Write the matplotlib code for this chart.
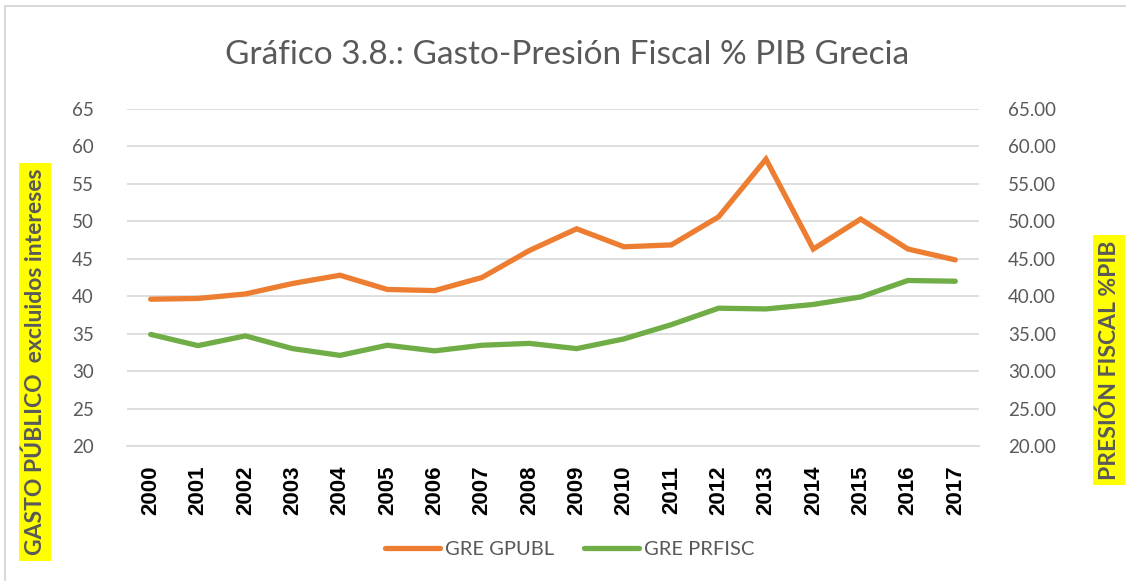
import matplotlib.pyplot as plt
from matplotlib.patches import Rectangle

years = [str(y) for y in range(2000, 2018)]
gre_gpubl = [39.6, 39.7, 40.3, 41.7, 42.8, 40.9, 40.75, 42.5, 46.1, 49.0,
             46.6, 46.85, 50.6, 58.3, 46.3, 50.3, 46.3, 44.85]
gre_prfisc = [34.9, 33.4, 34.7, 33.0, 32.1, 33.45, 32.7, 33.45, 33.7, 33.0,
              34.3, 36.2, 38.4, 38.3, 38.9, 39.9, 42.1, 42.0]
yticks = list(range(20, 70, 5))

gray = '#595959'
plt.rcParams['font.family'] = ['Lato', 'DejaVu Sans']

fig = plt.figure(figsize=(11.26, 5.81), dpi=100)
ax = fig.add_axes([0.1128, 0.2324, 0.7566, 0.58])
ax2 = ax.twinx()

x = range(len(years))
l1, = ax.plot(x, gre_gpubl, color='#ED7D31', lw=3.8, solid_capstyle='round',
              solid_joinstyle='miter', label='GRE GPUBL')
l2, = ax2.plot(x, gre_prfisc, color='#70AD47', lw=3.8, solid_capstyle='round',
               solid_joinstyle='miter', label='GRE PRFISC')

for a in (ax, ax2):
    a.set_ylim(20, 65)
    a.set_yticks(yticks)
    a.set_xlim(-0.5, len(years) - 0.5)
    for s in a.spines.values():
        s.set_visible(False)
    a.tick_params(length=0, labelsize=13.5, labelcolor=gray)

ax.grid(axis='y', color='#D9D9D9', lw=1.2)
ax.set_axisbelow(True)
ax.spines['bottom'].set_visible(True)
ax.spines['bottom'].set_color('#D9D9D9')
ax.spines['bottom'].set_linewidth(1.2)

ax.set_yticklabels([str(v) for v in yticks])
ax2.set_yticklabels(['%.2f' % v for v in yticks])
ax.tick_params(axis='y', pad=24)
ax2.tick_params(axis='y', pad=21)

ax.set_xticks(list(x))
ax.set_xticklabels(years, rotation=90, fontsize=16, fontweight='bold',
                   color='black', family='Liberation Sans')
ax.tick_params(axis='x', pad=14, labelcolor='black')

fig.text(0.504, 0.905, 'Gráfico 3.8.: Gasto-Presión Fiscal % PIB Grecia',
         ha='center', va='center', fontsize=24, color=gray)

fig.text(0.031, 0.377, 'GASTO PÚBLICO  excluidos intereses', rotation=90,
         ha='center', va='center', fontsize=16.5, fontweight='bold', color=gray,
         bbox=dict(facecolor='#FFFF00', edgecolor='none', pad=4))
fig.text(0.985, 0.38, 'PRESIÓN FISCAL %PIB', rotation=90,
         ha='center', va='center', fontsize=16.5, fontweight='bold', color=gray,
         bbox=dict(facecolor='#FFFF00', edgecolor='none', pad=4))

fig.legend(handles=[l1, l2], loc='center', bbox_to_anchor=(0.506, 0.055),
           ncol=2, frameon=False, fontsize=14.5, labelcolor=gray,
           handlelength=2.7, columnspacing=1.5, handletextpad=0.25)

fig.patches.append(Rectangle((0.004, -0.01), 1.2, 1.0, transform=fig.transFigure,
                             fill=False, edgecolor='#D9D9D9', lw=1.5))

fig.savefig('out.png', dpi=100)
